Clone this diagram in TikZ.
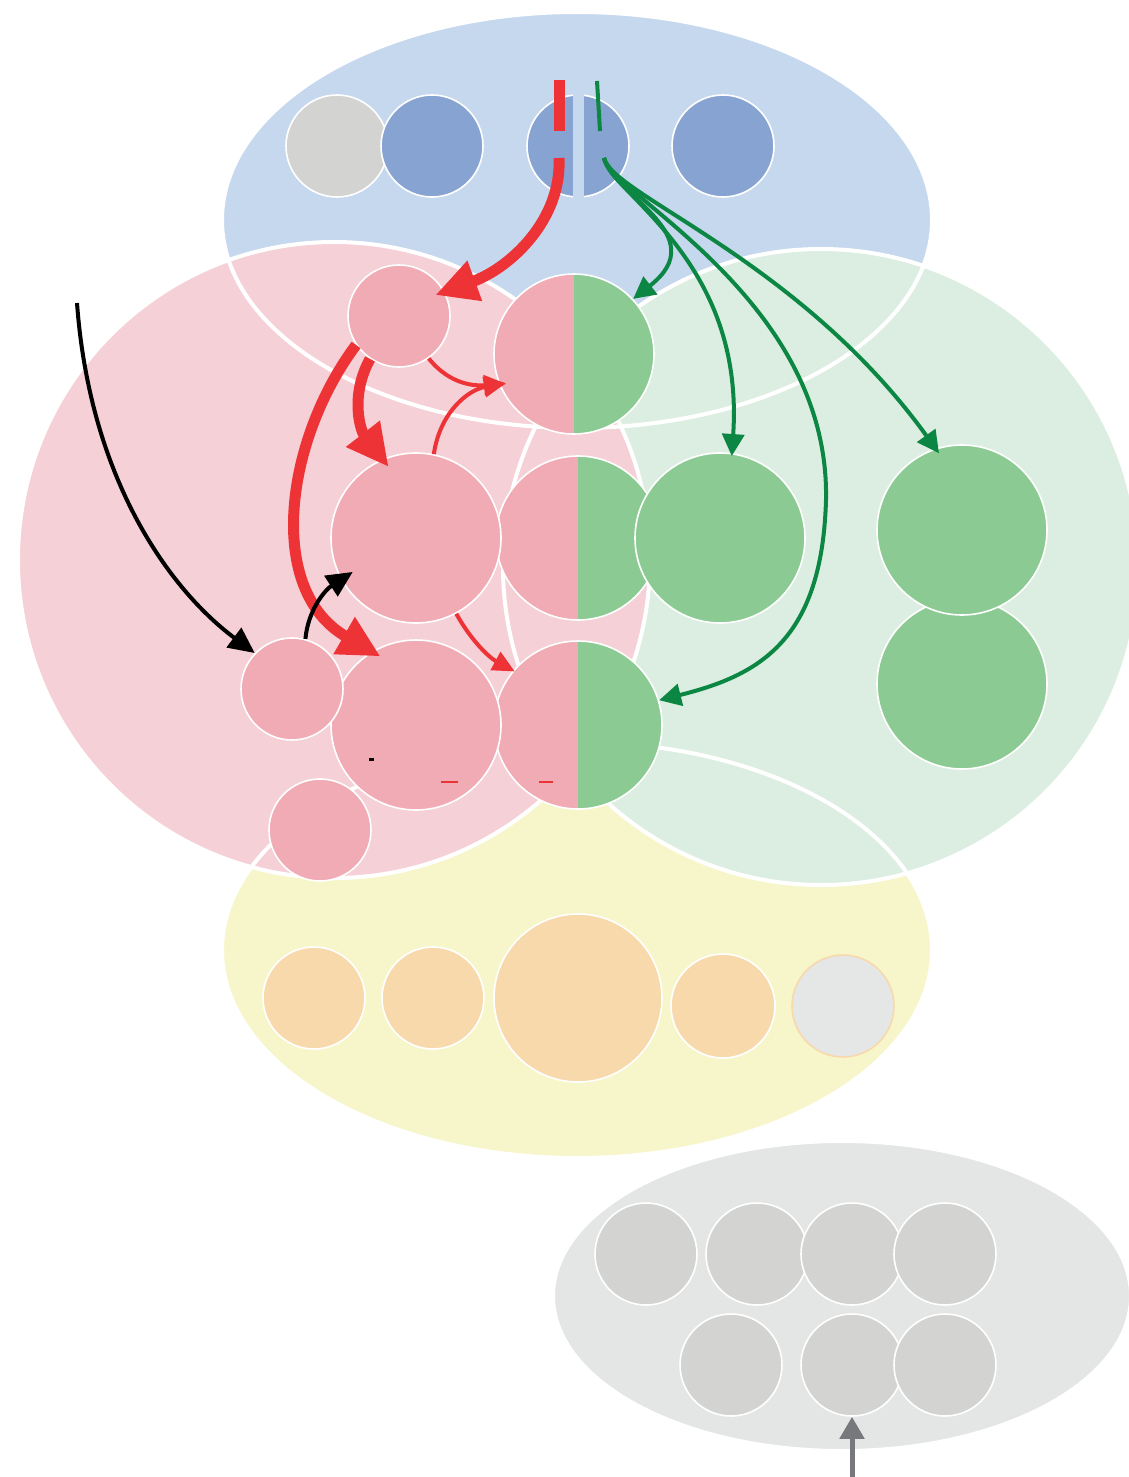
\documentclass[tikz,border=0pt]{standalone}
\usepackage{tikz}
\usetikzlibrary{arrows.meta}

\definecolor{bluebg}{HTML}{C6D8EE}
\definecolor{bluec}{HTML}{87A3D2}
\definecolor{grayc}{HTML}{D3D3D1}
\definecolor{pinkbg}{HTML}{F5D0D6}
\definecolor{pinkc}{HTML}{F0ABB5}
\definecolor{greenbg}{HTML}{DCEEE1}
\definecolor{greenc}{HTML}{8BCB93}
\definecolor{yellowbg}{HTML}{F7F6CB}
\definecolor{orangec}{HTML}{F7D9AC}
\definecolor{graybg}{HTML}{E3E6E5}
\definecolor{palec}{HTML}{E4E7E5}
\definecolor{redc}{HTML}{EE3337}
\definecolor{greenarrow}{HTML}{0B8743}
\definecolor{grayarrow}{HTML}{76787B}

\begin{document}
\begin{tikzpicture}[x=0.5pt,y=-0.5pt,
  base node/.style={circle,draw=white,line width=0.8pt,inner sep=0pt,minimum size=51pt},
  pink node/.style={base node,fill=pinkc},
  green node/.style={base node,fill=greenc},
  blue node/.style={base node,fill=bluec},
  gray node/.style={base node,fill=grayc},
  orange node/.style={base node,fill=orangec},
  split node/.style={base node,path picture={
      \fill[pinkc] (path picture bounding box.south west) rectangle (path picture bounding box.north);
      \fill[greenc] (path picture bounding box.south) rectangle (path picture bounding box.north east);}},
  region/.style={draw=white,line width=2pt},
  thick red/.style={draw=redc,line width=5.5pt,-{Triangle[length=21pt,width=20pt]},shorten >=-5pt},
  thin red/.style={draw=redc,line width=2pt,-{Triangle[length=11pt,width=10pt]}},
  green arrow/.style={draw=greenarrow,line width=2pt,-{Triangle[length=11pt,width=11pt]}},
  black arrow/.style={draw=black,line width=2pt,-{Triangle[length=13pt,width=12pt]}}]

  \useasboundingbox (0,0) rectangle (1129,1477);

  % regions
  \fill[bluebg] (577,220) ellipse [x radius=355,y radius=208];
  \fill[yellowbg] (577,950) ellipse [x radius=355,y radius=208];
  \fill[graybg] (842,1296) ellipse [x radius=289,y radius=155];
  \fill[greenbg] (821,567) ellipse [x radius=318,y radius=318];
  \fill[pinkbg] (334,560) ellipse [x radius=316,y radius=318];
  \path[region] (577,220) ellipse [x radius=355,y radius=208];
  \path[region] (577,950) ellipse [x radius=355,y radius=208];
  \path[region] (842,1296) ellipse [x radius=289,y radius=155];
  \path[region] (821,567) ellipse [x radius=318,y radius=318];
  \path[region] (334,560) ellipse [x radius=316,y radius=318];

  % top row
  \node[gray node] (T1) at (337,146) {};
  \node[blue node] (T2) at (432,146) {};
  \node[blue node] (Q) at (578,146) {};
  \node[blue node] (T4) at (723,146) {};
  \fill[bluebg] ([xshift=-2.75pt,yshift=2pt]Q.north) rectangle ([xshift=2.75pt,yshift=-2pt]Q.south);

  % middle
  \node[split node,minimum size=80pt] (S1) at (574,354) {};
  \node[pink node] (A) at (399,316) {};
  \node[split node,minimum size=82pt] (S2) at (578,538) {};
  \node[pink node,minimum size=85pt] (B) at (416,538) {};
  \node[green node,minimum size=85pt] (G1) at (720,538) {};
  \node[green node,minimum size=85pt] (G3) at (962,684) {};
  \node[green node,minimum size=85pt] (G2) at (962,530) {};
  \node[split node,minimum size=84pt] (S3) at (578,725) {};
  \node[pink node,minimum size=85pt] (D) at (416,725) {};
  \node[pink node] (C) at (292,689) {};
  \node[pink node] (E) at (320,830) {};

  % bottom rows
  \node[orange node] (Y1) at (314,998) {};
  \node[orange node] (Y2) at (433,998) {};
  \node[orange node,minimum size=84pt] (Y3) at (578,998) {};
  \node[orange node,minimum size=52pt] (Y4) at (723,1006) {};
  \node[base node,fill=palec,draw=orangec] (Y5) at (843,1006) {};

  \node[gray node] (H1) at (646,1254) {};
  \node[gray node] (H2) at (757,1254) {};
  \node[gray node] (H3) at (852,1254) {};
  \node[gray node] (H4) at (945,1254) {};
  \node[gray node] (H5) at (731,1365) {};
  \node[gray node] (H6) at (852,1365) {};
  \node[gray node] (H7) at (945,1365) {};

  \fill[black] (369,757.5) rectangle (374,760.5);
  \draw[redc,line width=0.75pt] (441,782) -- (458,782);
  \draw[redc,line width=0.75pt] (539,782) -- (553,782);

  % connectors
  \coordinate (redtop) at (559,80);
  \coordinate (redbot) at (559,131);
  \coordinate (redstart) at (559,158);
  \coordinate (greentop) at (597,81);
  \coordinate (greenbot) at (600,131);
  \coordinate (greenstart) at (604,158);
  \coordinate (blackstart) at (77,303);
  \coordinate (grayin) at (852,1477);

  \draw[redc,line width=5.5pt] (redtop) -- (redbot);
  \draw[greenarrow,line width=2pt] (greentop) -- (greenbot);

  \path[thick red] (redstart) .. controls (562,220) and (510,268) .. (A.28);
  \path[thick red] (A.236) .. controls (350,395) and (360,430) .. (B.113);
  \path[thick red] (A.214) .. controls (285,440) and (265,590) .. (D.121);
  \path[thin red,shorten >=-3.5pt] (A.-55) .. controls (450,385) and (475,386) .. (S1.202);
  \path[thin red,shorten >=-3.5pt] (B.78) .. controls (440,412) and (468,390) .. (S1.202);
  \path[thin red,shorten >=-1pt] (B.-62) .. controls (472,642) and (490,658) .. (S3.140);

  \path[black arrow] (blackstart) .. controls (90,480) and (170,590) .. (C.136);
  \path[black arrow,shorten >=-7pt] (C.75) .. controls (308,610) and (325,590) .. (B.209);

  \path[green arrow] (greenstart) .. controls (612,195) and (715,235) .. (S1.43);
  \path[green arrow,shorten >=-1.5pt] (greenstart) .. controls (612,195) and (745,260) .. (G1.82);
  \path[green arrow] (greenstart) .. controls (612,195) and (830,300) .. (826,500)
     .. controls (822,640) and (760,675) .. (S3.17);
  \path[green arrow,shorten >=-3pt] (greenstart) .. controls (612,195) and (800,260) .. (G2.108);

  \path[draw=grayarrow,line width=2.5pt,-{Triangle[length=11pt,width=12pt]}] (grayin) -- (H6);
\end{tikzpicture}
\end{document}
